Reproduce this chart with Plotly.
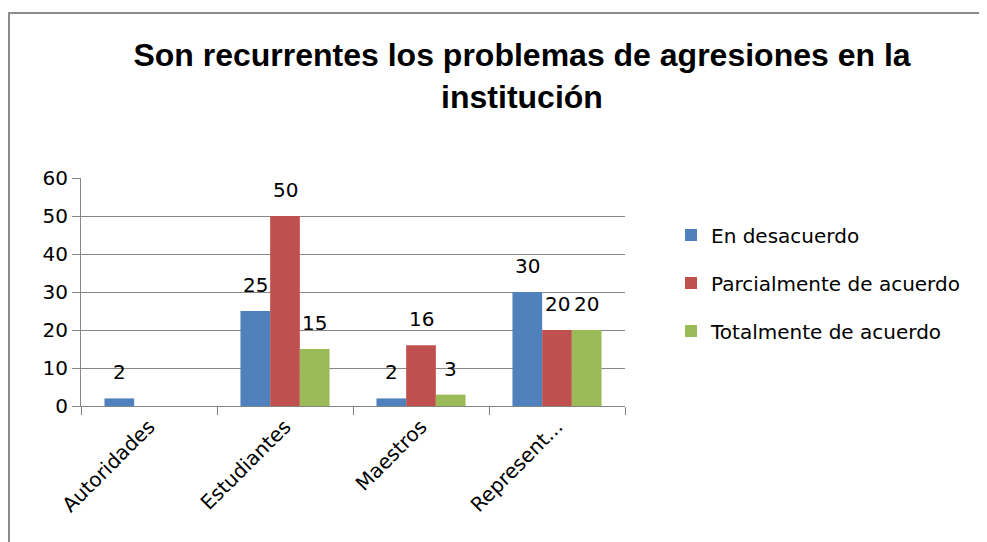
import plotly.graph_objects as go

categories = ["Autoridades", "Estudiantes", "Maestros", "Represent..."]
series_names = ["En desacuerdo", "Parcialmente de acuerdo", "Totalmente de acuerdo"]
en_desacuerdo = [2, 25, 2, 30]
parcialmente = [None, 50, 16, 20]
totalmente = [None, 15, 3, 20]
y_ticks = [0, 10, 20, 30, 40, 50, 60]

colors = ["#4f81bd", "#c0504d", "#9bbb59"]
series_values = [en_desacuerdo, parcialmente, totalmente]

# page body has an 8px margin, so figure pixels = target pixels - 8
OFF = 8
W, H = 987 - OFF, 542 - OFF
L, R, T, B = 81 - OFF, 625 - OFF, 178 - OFF, 406 - OFF
label_font = dict(family="DejaVu Sans, Verdana, sans-serif", size=20, color="#000000")

fig = go.Figure()
for i, (name, vals) in enumerate(zip(series_names, series_values)):
    fig.add_trace(go.Bar(
        x=categories, y=vals, name=name, marker_color=colors[i],
        marker_line_width=0, legendgroup=name,
    ))

bar_px = (R - L) / len(categories) * (1 - 0.345) / 3
annotations = []
for i, vals in enumerate(series_values):
    for c, v in zip(categories, vals):
        if v is None:
            continue
        annotations.append(dict(
            x=c, y=v, xref="x", yref="y", text=str(v), showarrow=False,
            xshift=(i - 1) * bar_px, yshift=26, font=label_font,
        ))

pw = R - L
ph = B - T
fig.add_shape(
    type="rect", xref="paper", yref="paper",
    x0=(1 - L) / pw, x1=(W + 20 - L) / pw,
    y0=-(H + 20 - B) / ph, y1=1 + (T - 5) / ph,
    line=dict(color="#8c8c8c", width=2), fillcolor="rgba(0,0,0,0)", layer="below",
)

fig.update_layout(
    width=W, height=H,
    margin=dict(l=L, r=W - R, t=T, b=H - B, autoexpand=False),
    paper_bgcolor="white", plot_bgcolor="white",
    barmode="group", bargap=0.345, bargroupgap=0,
    title=dict(
        text="<b>Son recurrentes los problemas de agresiones en la<br>institución</b>",
        x=(522 - OFF) / W, xanchor="center", y=1 - 58 / H, yanchor="top",
        font=dict(family="Liberation Sans, Arial, sans-serif", size=32, color="#000000"),
    ),
    legend=dict(
        x=(671 - L - OFF) / pw, xanchor="left", y=(B + OFF - 283) / ph, yanchor="middle",
        font=label_font, tracegroupgap=19, bgcolor="rgba(0,0,0,0)",
        itemwidth=30,
    ),
    showlegend=True,
    annotations=annotations,
    font=label_font,
)
fig.update_xaxes(
    type="category", tickangle=-45, tickson="boundaries",
    ticks="outside", ticklen=8, tickcolor="#868686",
    showline=True, linecolor="#868686", linewidth=1,
    showgrid=False, tickfont=label_font,
)
fig.update_yaxes(
    range=[0, 60], tickvals=y_ticks, ticks="outside", ticklen=8, tickcolor="#868686",
    showline=True, linecolor="#868686", linewidth=1,
    showgrid=True, gridcolor="#868686", gridwidth=1, zeroline=False,
    tickfont=label_font,
)

fig.write_html("out.html")
